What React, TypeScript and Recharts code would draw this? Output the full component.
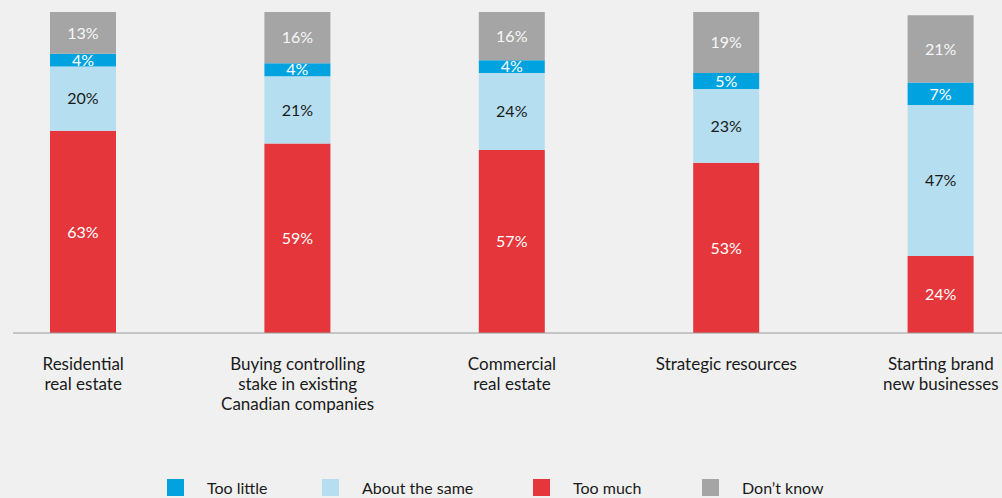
import React from 'react';
import { BarChart, Bar, XAxis, YAxis, LabelList } from 'recharts';

const categories = [
  'Residential|real estate',
  'Buying controlling|stake in existing|Canadian companies',
  'Commercial|real estate',
  'Strategic resources',
  'Starting brand|new businesses',
];
const tooMuch = [63, 59, 57, 53, 24];
const aboutSame = [20, 21, 24, 23, 47];
const tooLittle = [4, 4, 4, 5, 7];
const dontKnow = [13, 16, 16, 19, 21];

const series = [
  { key: 'tooMuch', name: 'Too much', color: '#e5363b', text: '#ffffff' },
  { key: 'aboutSame', name: 'About the same', color: '#b5dff0', text: '#1a1a1a' },
  { key: 'tooLittle', name: 'Too little', color: '#00a3e0', text: '#ffffff' },
  { key: 'dontKnow', name: "Don\u2019t know", color: '#a5a5a5', text: '#f7f7f7' },
];

// legend order differs from stacking order
const legendOrder = ['tooLittle', 'aboutSame', 'tooMuch', 'dontKnow'];
const legendLeft = [167, 322, 533, 702];

const FONT = 'Lato, "Noto Sans", sans-serif';
const W = 1002;
const H = 498;

const data = categories.map((c, i) => ({
  name: c,
  tooMuch: tooMuch[i],
  aboutSame: aboutSame[i],
  tooLittle: tooLittle[i],
  dontKnow: dontKnow[i],
}));

const CategoryTick = (props: any) => {
  const { x, payload } = props;
  const lines = String(payload.value).split('|');
  return (
    <text x={x} y={370} textAnchor="middle" fill="#1a1a1a" fontSize={17} fontFamily={FONT}>
      {lines.map((l, i) => (
        <tspan key={i} x={x} dy={i === 0 ? 0 : 20}>
          {l}
        </tspan>
      ))}
    </text>
  );
};

export default function App() {
  return (
    <div style={{ position: 'relative', width: W, height: H, background: '#f0f0f0', fontFamily: FONT }}>
      <style>{'body{margin:0;background:#f0f0f0}'}</style>
      <BarChart
        width={W}
        height={H}
        data={data}
        margin={{ top: 12, right: 0, left: 13, bottom: 0 }}
      >
        <YAxis hide domain={[0, 100]} allowDataOverflow />
        <XAxis
          dataKey="name"
          height={165}
          interval={0}
          tickLine={false}
          axisLine={{ stroke: '#9a9a9a', strokeWidth: 1 }}
          padding={{ left: -37, right: -46 }}
          tick={<CategoryTick />}
        />
        {series.map((s) => (
          <Bar
            key={s.key}
            dataKey={s.key}
            stackId="a"
            fill={s.color}
            barSize={66}
            isAnimationActive={false}
          >
            <LabelList
              dataKey={s.key}
              position="center"
              fill={s.text}
              fontSize={16}
              fontFamily={FONT}
              formatter={(v: any) => `${v}%`}
            />
          </Bar>
        ))}
      </BarChart>

      {legendOrder.map((k, i) => {
        const s = series.find((x) => x.key === k)!;
        return (
          <div
            key={k}
            style={{
              position: 'absolute',
              left: legendLeft[i],
              top: 479,
              display: 'flex',
              alignItems: 'center',
              height: 17,
            }}
          >
            <span style={{ width: 17, height: 17, background: s.color, display: 'inline-block' }} />
            <span style={{ marginLeft: 23, fontSize: 16, color: '#1a1a1a', whiteSpace: 'nowrap' }}>{s.name}</span>
          </div>
        );
      })}
    </div>
  );
}
